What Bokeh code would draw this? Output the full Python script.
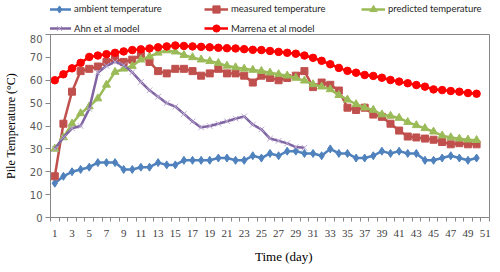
from bokeh.plotting import figure
from bokeh.layouts import column
from bokeh.models import Range1d, FixedTicker, Legend, LegendItem, Label
from bokeh.embed import file_html
from bokeh.resources import INLINE

days = list(range(1, 51))
ambient = [15, 18, 20, 21, 22, 24, 24, 24, 21, 21,
           22, 22, 24, 23, 23, 25, 25, 25, 25, 26,
           26, 25, 25, 27, 26, 28, 27, 29, 29, 28,
           28, 27, 30, 28, 28, 26, 26, 27, 29, 28,
           29, 28, 28, 25, 25, 26, 27, 26, 25, 26]
measured = [18, 41, 55, 64, 65, 66, 68, 69.5, 68, 69,
            71, 68, 64, 63, 65, 65, 64, 62, 63, 65,
            63, 63, 62, 59, 62, 61, 60, 61, 62, 64,
            57, 59, 58, 55.5, 48, 47, 48, 45, 44, 41,
            38, 35.4, 35, 34.5, 34, 33, 32, 32.5, 32, 32]
predicted = [30, 35, 41, 45.5, 48.5, 52, 58, 63.6, 65, 66.2,
             69, 70.3, 72, 73, 72.5, 71, 70, 69, 68.3, 67.5,
             66.3, 65.6, 65, 64.5, 64, 63.3, 62.6, 62, 61, 59.8,
             58.2, 57.2, 56, 53.5, 51.5, 49.5, 48, 47, 45, 44.4,
             43.5, 41.7, 40.3, 39, 37.5, 35.8, 35, 34.4, 34, 33.8]
ahn_days = list(range(1, 31))
ahn = [30, 35, 39, 40, 47.5, 63.3, 66.3, 68, 66.6, 63.5,
       59.3, 55.6, 52.8, 50, 48.5, 45.3, 42, 39.4, 40, 41,
       42.1, 43.2, 44.2, 40.6, 38.5, 34.5, 33.5, 32.4, 30.8, 30.5]
marrena = [60, 62.6, 65.2, 67.6, 70.2, 70.8, 71.4, 72, 72.6, 73.2,
           73.5, 73.9, 74.4, 74.8, 75.2, 75, 74.8, 74.6, 74.4, 74.2,
           74, 73.9, 73.6, 73.3, 73.2, 72.8, 72.4, 72, 71.6, 70.8,
           69.8, 68.5, 67, 65.4, 64.1, 63.3, 62.3, 61.9, 61.1, 60.1,
           59.4, 58.7, 57.9, 57.2, 56, 55.7, 55.3, 55, 54.4, 54.1]
series_names = ["ambient temperature", "measured temperature", "predicted temperature",
                "Ahn et al model", "Marrena et al model"]

x_labels = list(range(1, 52, 2))
x_bounds = [d - 0.5 for d in range(1, 53)]
y_ticks = list(range(0, 81, 10))

c_amb, c_mea, c_pre, c_ahn, c_ahn_m, c_mar = "#4F81BD", "#C0504D", "#9BBB59", "#8064A2", "#B8A8D0", "#FF0000"
lw = 2.5

series = [
    (days, ambient, "diamond", c_amb, c_amb, 8),
    (days, measured, "square", c_mea, c_mea, 7),
    (days, predicted, "triangle", c_pre, c_pre, 8),
    (ahn_days, ahn, "x", c_ahn, c_ahn_m, 8),
    (days, marrena, "circle", c_mar, c_mar, 7.5),
]


def draw(fig, xs, ys, mk, lc, mc, sz):
    rl = fig.line(xs, ys, line_color=lc, line_width=lw)
    if mk == "x":
        rm = fig.scatter(xs, ys, marker=mk, size=sz, line_color=mc, line_width=1)
    else:
        rm = fig.scatter(xs, ys, marker=mk, size=sz, fill_color=mc, line_color=mc)
    return [rl, rm]


# ---------------- main chart ----------------
p = figure(width=492, height=213, output_backend="svg", toolbar_location=None,
           x_range=Range1d(0.5, 51.5), y_range=Range1d(0, 80),
           min_border_left=49, min_border_right=3, min_border_top=0,
           min_border_bottom=30)
p.xgrid.visible = False
p.ygrid.visible = False
p.outline_line_color = "#868686"

ax = p.xaxis[0]
ax.ticker = FixedTicker(ticks=x_labels, minor_ticks=x_bounds)
ax.axis_line_color = "#868686"
ax.major_tick_line_color = None
ax.major_tick_out = 0
ax.major_tick_in = 0
ax.minor_tick_line_color = "#868686"
ax.minor_tick_out = 4
ax.minor_tick_in = 0
ax.major_label_standoff = 8
ax.major_label_text_line_height = 1.0
ax.major_label_text_font = "Liberation Serif"
ax.major_label_text_font_size = "11px"
ax.major_label_text_color = "#404040"

ay = p.yaxis[0]
ay.ticker = FixedTicker(ticks=y_ticks)
ay.axis_line_color = "#868686"
ay.major_tick_line_color = "#868686"
ay.major_tick_out = 5
ay.major_tick_in = 0
ay.minor_tick_line_color = None
ay.major_label_standoff = 3
ay.major_label_text_font = "DejaVu Sans"
ay.major_label_text_font_size = "10px"
ay.major_label_text_color = "#595959"
ay.axis_label = "Pile Temperature (\u00b0C)"
ay.axis_label_text_font = "Liberation Serif"
ay.axis_label_text_font_size = "12px"
ay.axis_label_text_font_style = "normal"
ay.axis_label_text_color = "#000000"
ay.axis_label_standoff = 9

for s in series:
    draw(p, *s)

# ---------------- legend strip (frame aligned with main chart) ----------------
lg = figure(width=492, height=34, output_backend="svg", toolbar_location=None,
            x_range=Range1d(-20, -10), y_range=Range1d(-20, -10),
            x_axis_location=None, y_axis_location=None,
            min_border=0, outline_line_color=None)
lg.xgrid.visible = False
lg.ygrid.visible = False
items = [LegendItem(label=n, renderers=draw(lg, *s)) for n, s in zip(series_names, series)]


def add_row(its, vx, vy):
    leg = Legend(items=its, location=(vx, vy), orientation="horizontal",
                 border_line_color=None, background_fill_alpha=0,
                 padding=0, margin=0, spacing=0,
                 glyph_width=24, glyph_height=18, label_height=18, label_width=130,
                 label_standoff=3, label_text_font="Lato",
                 label_text_font_size="9.5px", label_text_color="#262626")
    lg.add_layout(leg, "center")


add_row(items[:3], -3, 16.5)
add_row(items[3:], -3, -3)

# ---------------- x-axis title strip ----------------
tt = figure(width=492, height=17, output_backend="svg", toolbar_location=None,
            x_range=Range1d(0.5, 51.5), y_range=Range1d(0, 1),
            x_axis_location=None, y_axis_location=None,
            min_border=0, outline_line_color=None)
tt.xgrid.visible = False
tt.ygrid.visible = False
tt.add_layout(Label(x=27.6, y=0.5, text="Time (day)", text_align="center",
                    text_baseline="middle", text_font="Liberation Serif",
                    text_font_size="13px", text_color="#000000"))

layout = column(lg, p, tt, spacing=0)
open("out.html", "w").write(file_html(layout, INLINE))
